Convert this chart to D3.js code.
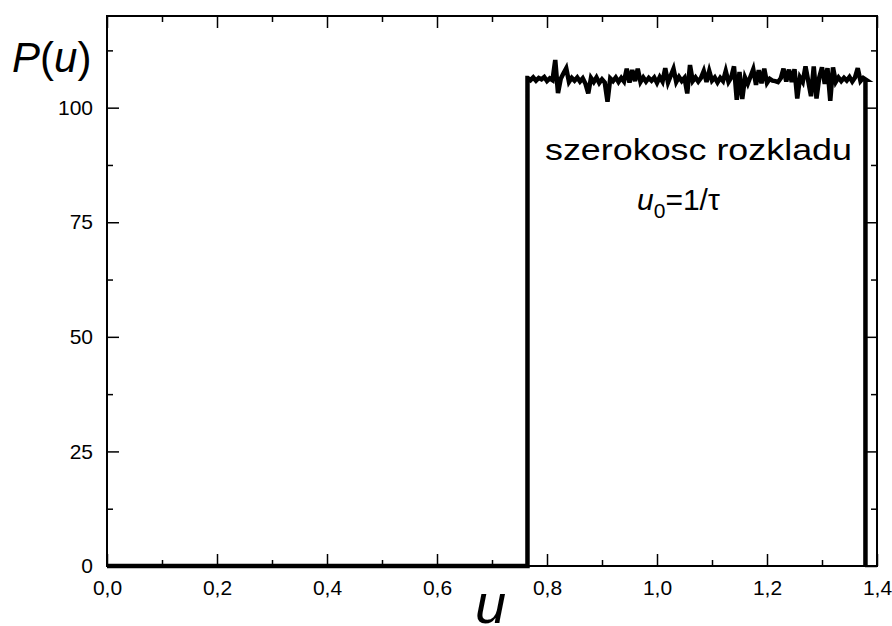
<!DOCTYPE html>
<html>
<head>
<meta charset="utf-8">
<script src="https://cdnjs.cloudflare.com/ajax/libs/d3/7.8.5/d3.min.js"></script>
<style>
  body { margin: 0; background: #fff; }
  text { font-family: "Liberation Sans", Arial, sans-serif; fill: #000; }
  .tick line { stroke: #000; stroke-width: 1.5; }
</style>
</head>
<body>
<div id="chart"></div>
<script>
// Data
var edgeLow = 0.7645;      // u where the distribution starts
var edgeHigh = 1.379;      // u where it ends
var plateauStart = 0.765;
var plateauStep = 0.005;
var plateauValues = [
  106.5, 106.0, 106.6, 105.9, 106.5, 106.2, 106.7, 105.8, 106.4, 106.0,
  110.4, 103.2, 106.3, 107.5, 108.6, 105.6, 106.5, 105.9, 106.6, 105.7,
  106.4, 105.2, 103.1, 106.5, 105.6, 106.6, 105.4, 106.2, 105.5, 101.3,
  106.4, 105.8, 106.6, 105.6, 106.5, 105.7, 108.5, 105.5, 108.2, 105.8,
  108.5, 105.6, 106.6, 105.7, 106.5, 105.9, 106.6, 105.4, 106.7, 105.7,
  108.6, 105.5, 107.0, 108.5, 105.6, 106.7, 105.8, 106.5, 103.1, 109.3,
  105.8, 106.6, 105.7, 106.5, 108.0, 105.6, 108.0, 105.9, 106.6, 105.5,
  106.5, 105.8, 108.0, 105.6, 106.6, 109.0, 101.7, 107.8, 101.9, 106.6,
  105.2, 106.8, 108.4, 105.0, 108.2, 105.3, 108.5, 105.4, 106.3, 105.9,
  105.8, 105.6, 106.4, 108.5, 105.7, 108.3, 105.6, 108.4, 102.0, 106.6,
  105.6, 109.0, 105.8, 102.5, 109.0, 102.0, 106.6, 108.8, 105.2, 108.6,
  101.5, 108.8, 105.6, 106.6, 105.8, 106.5, 105.9, 106.7, 105.7, 106.6,
  108.6, 105.8, 106.5, 106.1
];

var xMajorTicks = [0, 0.2, 0.4, 0.6, 0.8, 1.0, 1.2, 1.4];
var xMinorTicks = [0.1, 0.3, 0.5, 0.7, 0.9, 1.1, 1.3];
var xTickLabels = ['0,0', '0,2', '0,4', '0,6', '0,8', '1,0', '1,2', '1,4'];
var yMajorTicks = [0, 25, 50, 75, 100];
var yMinorTicks = [12.5, 37.5, 62.5, 87.5, 112.5];

var width = 892, height = 626;
var margin = {top: 16, right: 15, bottom: 60, left: 107};
var plotW = width - margin.left - margin.right;
var plotH = height - margin.top - margin.bottom;

var svg = d3.select('#chart').append('svg')
    .attr('width', width)
    .attr('height', height);

var g = svg.append('g')
    .attr('transform', `translate(${margin.left},${margin.top})`);

// Scales
var x = d3.scaleLinear().domain([0, 1.4]).range([0, plotW]);
var y = d3.scaleLinear().domain([0, 120]).range([plotH, 0]);

// Build the line points: zero, rising edge, noisy plateau, falling edge
var points = [[0, 0], [edgeLow, 0], [edgeLow, plateauValues[0]]];
plateauValues.forEach((v, i) => points.push([plateauStart + i * plateauStep, v]));
points.push([edgeHigh, plateauValues[plateauValues.length - 1]]);
points.push([edgeHigh, 0]);

var line = d3.line().x((d) => x(d[0])).y((d) => y(d[1]));

g.append('path')
    .datum(points)
    .attr('d', line)
    .attr('fill', 'none')
    .attr('stroke', '#000')
    .attr('stroke-width', 4.5)
    .attr('stroke-linejoin', 'miter');

// Axes: major with labels, minor without; ticks point inward on all sides
function addAxis(axisFn, scale, values, size, transform, labels) {
    var ax = axisFn(scale).tickValues(values).tickSize(-size).tickPadding(14);
    ax.tickFormat(labels ? (d, i) => labels[i] : '');
    var ag = g.append('g').attr('transform', transform).call(ax);
    ag.select('.domain').remove();
    ag.selectAll('text').style('font-size', '21px');
    return ag;
}

addAxis(d3.axisBottom, x, xMajorTicks, 12, `translate(0,${plotH})`, xTickLabels);
addAxis(d3.axisBottom, x, xMinorTicks, 6, `translate(0,${plotH})`);
addAxis(d3.axisTop, x, xMajorTicks, 12, 'translate(0,0)');
addAxis(d3.axisTop, x, xMinorTicks, 6, 'translate(0,0)');
addAxis(d3.axisLeft, y, yMajorTicks, 12, 'translate(0,0)', yMajorTicks.map(String));
addAxis(d3.axisLeft, y, yMinorTicks, 6, 'translate(0,0)');
addAxis(d3.axisRight, y, yMajorTicks, 12, `translate(${plotW},0)`);
addAxis(d3.axisRight, y, yMinorTicks, 6, `translate(${plotW},0)`);

// Frame
g.append('rect')
    .attr('width', plotW)
    .attr('height', plotH)
    .attr('fill', 'none')
    .attr('stroke', '#000')
    .attr('stroke-width', 2);

// Axis titles
var yTitle = svg.append('text').attr('x', 12).attr('y', 72).style('font-size', '42px');
yTitle.append('tspan').style('font-style', 'italic').text('P');
yTitle.append('tspan').text('(');
yTitle.append('tspan').style('font-style', 'italic').text('u');
yTitle.append('tspan').text(')');

// the big u sits at the bottom edge, partly cut as in the original
svg.append('text')
    .attr('x', 475).attr('y', 623)
    .style('font-size', '56px')
    .style('font-style', 'italic')
    .text('u');

// Annotation
svg.append('text')
    .attr('x', 545).attr('y', 160)
    .attr('textLength', 307)
    .attr('lengthAdjust', 'spacingAndGlyphs')
    .style('font-size', '30px')
    .text('szerokosc rozkladu');

var note = svg.append('text').attr('x', 637).attr('y', 210).style('font-size', '30px');
note.append('tspan').style('font-style', 'italic').text('u');
note.append('tspan').attr('dy', 8).style('font-size', '21px').text('0');
note.append('tspan').attr('dy', -8).text('=1/\u03C4');
</script>
</body>
</html>
